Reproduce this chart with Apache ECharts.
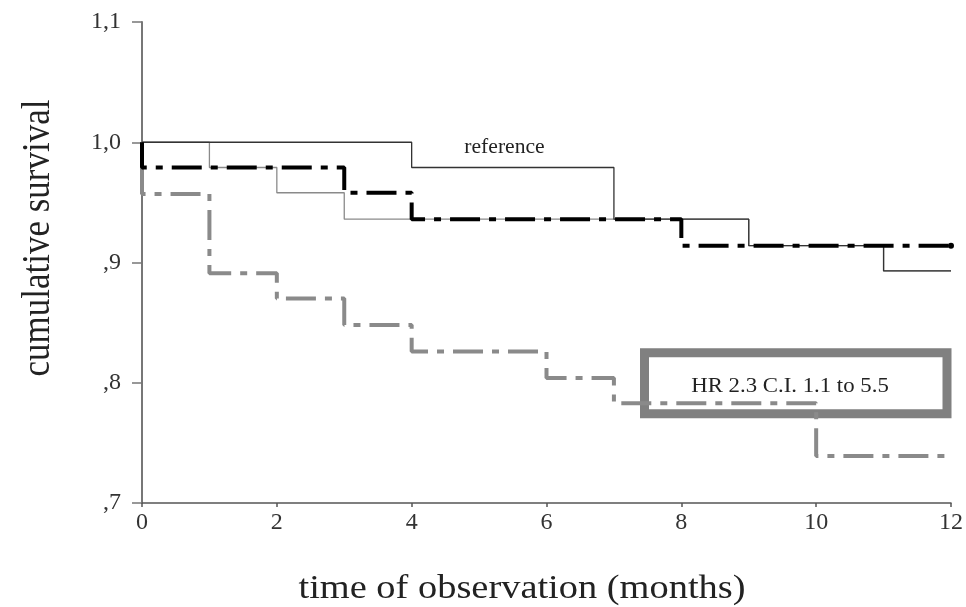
<!DOCTYPE html>
<html>
<head>
<meta charset="utf-8">
<script src="https://cdn.jsdelivr.net/npm/echarts@6/dist/echarts.min.js"></script>
<style>html,body{margin:0;padding:0;background:#fff}#c{width:966px;height:607px}</style>
</head>
<body>
<div id="c"></div>
<script>
// ---- data ----
const xTicks = [0, 2, 4, 6, 8, 10, 12];
const yTickLabels = [',7', ',8', ',9', '1,0', '1,1'];

const refTimes = [0, 4, 7, 9, 11, 12];
const refSurv  = [1.0, 0.979, 0.936, 0.914, 0.893, 0.893];

const thinGrayTimes = [0, 1, 2, 3, 9, 11, 12];
const thinGraySurv  = [1.0, 0.979, 0.958, 0.936, 0.914, 0.893, 0.893];

const blackTimes = [0, 0, 3, 4, 8, 12];
const blackSurv  = [1.0, 0.979, 0.958, 0.936, 0.914, 0.914];

const grayTimes = [0, 0, 1, 2, 3, 4, 6, 7, 10, 12];
const graySurv  = [0.979, 0.957, 0.891, 0.870, 0.848, 0.826, 0.804, 0.783, 0.739, 0.739];

const refLabel = 'reference';
const hrLabel = 'HR 2.3 C.I. 1.1 to 5.5';
const xTitle = 'time of observation (months)';
const yTitle = 'cumulative survival';

function pairs(t, s) { return t.map((x, i) => [x, s[i]]); }

const SERIF = '"Liberation Serif", "DejaVu Serif", serif';
const chart = echarts.init(document.getElementById('c'), null, {renderer: 'canvas'});

const blackData = pairs(blackTimes, blackSurv).map((p, i, a) =>
  i === a.length - 1 ? {value: p, symbol: 'circle', symbolSize: 6} : {value: p});

chart.setOption({
  animation: false,
  backgroundColor: '#ffffff',
  grid: {left: 142, right: 14, top: 22, bottom: 104, containLabel: false},
  xAxis: {
    type: 'value', min: xTicks[0], max: xTicks[xTicks.length - 1], interval: 2,
    axisLine: {show: true, onZero: false, lineStyle: {color: '#555', width: 1.5}},
    axisTick: {show: true, inside: false, length: 4, lineStyle: {color: '#555', width: 1.5}},
    axisLabel: {color: '#333', fontFamily: SERIF, fontSize: 24, margin: 8},
    splitLine: {show: false}
  },
  yAxis: {
    type: 'value', min: 0.7, max: 1.1, interval: 0.1,
    axisLine: {show: true, onZero: false, lineStyle: {color: '#777', width: 2}},
    axisTick: {show: true, inside: false, length: 10, lineStyle: {color: '#777', width: 1.5}},
    axisLabel: {
      color: '#333', fontFamily: SERIF, fontSize: 24, margin: 21,
      formatter: v => yTickLabels[Math.round((v - 0.7) / 0.1)]
    },
    splitLine: {show: false}
  },
  series: [
    {
      name: 'thin gray', type: 'line', step: 'end', symbol: 'none', z: 2,
      data: pairs(thinGrayTimes, thinGraySurv),
      lineStyle: {color: '#8a8a8a', width: 1.3}
    },
    {
      name: 'reference', type: 'line', step: 'end', symbol: 'none', z: 3,
      data: pairs(refTimes, refSurv),
      lineStyle: {color: '#333', width: 1.3}
    },
    {
      name: 'gray dash', type: 'line', step: 'end', symbol: 'none', z: 4,
      data: pairs(grayTimes, graySurv),
      lineStyle: {color: '#8a8a8a', width: 4, type: [30, 9, 7, 9]}
    },
    {
      name: 'black dash', type: 'line', step: 'end', symbol: 'none', z: 5,
      data: blackData,
      itemStyle: {color: '#000'},
      lineStyle: {color: '#000', width: 4, type: [30, 9, 7, 9]}
    }
  ],
  graphic: [
    {
      type: 'rect', z: 1,
      shape: {x: 644.5, y: 352.8, width: 302.5, height: 61},
      style: {fill: 'none', stroke: '#808080', lineWidth: 9}
    },
    {
      type: 'text', x: 790, y: 387, scaleX: 1.14,
      style: {text: hrLabel, font: '20px ' + SERIF, fill: '#222', align: 'center', verticalAlign: 'middle'}
    },
    {
      type: 'text', x: 504.5, y: 147.5, scaleX: 1.08,
      style: {text: refLabel, font: '20px ' + SERIF, fill: '#222', align: 'center', verticalAlign: 'middle'}
    },
    {
      type: 'text', x: 522, y: 589, scaleX: 1.13,
      style: {text: xTitle, font: '34px ' + SERIF, fill: '#222', align: 'center', verticalAlign: 'middle'}
    },
    {
      type: 'text', x: 38, y: 238, rotation: Math.PI / 2, scaleY: 1.15,
      style: {text: yTitle, font: '35px ' + SERIF, fill: '#222', align: 'center', verticalAlign: 'middle'}
    }
  ]
});
</script>
</body>
</html>
